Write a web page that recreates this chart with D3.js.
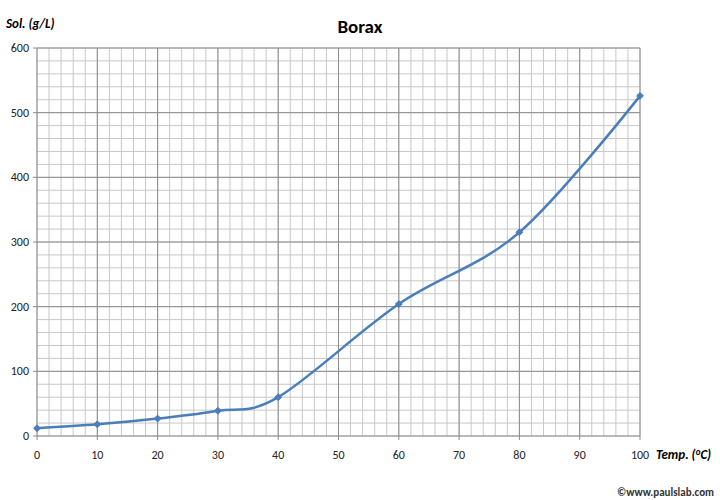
<!DOCTYPE html>
<html>
<head>
<meta charset="utf-8">
<script src="https://cdn.jsdelivr.net/npm/d3@7"></script>
<style>
  body { margin: 0; background: #fff; }
  text { font-family: Calibri, Carlito, "Open Sans", "Liberation Sans", sans-serif; }
</style>
</head>
<body>
<div id="draw"></div>
<script>
// data
let temps = [0, 10, 20, 30, 40, 60, 80, 100];
let sols = [12, 18, 27, 39, 60, 204, 315, 526];
let xTicks = [0, 10, 20, 30, 40, 50, 60, 70, 80, 90, 100];
let yTicks = [0, 100, 200, 300, 400, 500, 600];

let W = 720, H = 500;
let x0 = 37, x1 = 640, y0 = 436, y1 = 48;

let svg = d3.select('#draw').append('svg')
  .attr('width', W).attr('height', H);

let x = d3.scaleLinear().domain([0, 100]).range([x0, x1]);
let y = d3.scaleLinear().domain([0, 600]).range([y0, y1]);

// minor grid (every 2 on x, every 20 on y)
let g = svg.append('g');
g.selectAll('.vminor').data(d3.range(0, 101, 2)).enter().append('line')
  .attr('x1', d => x(d)).attr('x2', d => x(d))
  .attr('y1', y1).attr('y2', y0)
  .attr('stroke', '#c8c8c8').attr('stroke-width', 1);
g.selectAll('.hminor').data(d3.range(0, 601, 20)).enter().append('line')
  .attr('x1', x0).attr('x2', x1)
  .attr('y1', d => y(d)).attr('y2', d => y(d))
  .attr('stroke', '#c8c8c8').attr('stroke-width', 1);

// major grid + small ticks
g.selectAll('.vmajor').data(xTicks).enter().append('line')
  .attr('x1', d => x(d)).attr('x2', d => x(d))
  .attr('y1', y1).attr('y2', y0 + 4)
  .attr('stroke', '#8c8c8c').attr('stroke-width', 1);
g.selectAll('.hmajor').data(yTicks).enter().append('line')
  .attr('x1', x0 - 4).attr('x2', x1)
  .attr('y1', d => y(d)).attr('y2', d => y(d))
  .attr('stroke', '#8c8c8c').attr('stroke-width', 1);

// tick labels
svg.selectAll('.xl').data(xTicks).enter().append('text')
  .attr('x', d => x(d)).attr('y', y0 + 23)
  .attr('text-anchor', 'middle').attr('font-size', 12).attr('fill', '#222')
  .text(d => d);
svg.selectAll('.yl').data(yTicks).enter().append('text')
  .attr('x', x0 - 8).attr('y', d => y(d) + 4)
  .attr('text-anchor', 'end').attr('font-size', 12).attr('fill', '#222')
  .text(d => d);

// titles
svg.append('text').attr('x', 360).attr('y', 33)
  .attr('text-anchor', 'middle').attr('font-size', 19).attr('font-weight', 'bold')
  .text('Borax');
svg.append('text').attr('x', 6).attr('y', 28)
  .attr('font-size', 13).attr('font-weight', 'bold').attr('font-style', 'italic')
  .text('Sol. (g/L)');
let xt = svg.append('text').attr('x', 656).attr('y', y0 + 23)
  .attr('font-size', 13).attr('font-weight', 'bold').attr('font-style', 'italic');
xt.append('tspan').text('Temp. (');
xt.append('tspan').attr('font-size', 9).attr('dy', -4).text('o');
xt.append('tspan').attr('dy', 4).text('C)');
svg.append('text').attr('x', 714).attr('y', 496)
  .attr('text-anchor', 'end').attr('font-size', 11).attr('font-weight', 'bold').attr('fill', '#333')
  .text('©www.paulslab.com');

// the smoothed line
let pts = temps.map((t, i) => [t, sols[i]]);
let line = d3.line()
  .x(d => x(d[0])).y(d => y(d[1]))
  .curve(d3.curveCardinal.tension(0));
svg.append('path').datum(pts)
  .attr('d', line)
  .attr('fill', 'none').attr('stroke', '#4a7ebb').attr('stroke-width', 2.5);

// diamond markers
svg.selectAll('.mk').data(pts).enter().append('path')
  .attr('d', d3.symbol().type(d3.symbolDiamond2).size(30))
  .attr('transform', d => 'translate(' + x(d[0]) + ',' + y(d[1]) + ')')
  .attr('fill', '#4a7ebb').attr('stroke', '#4a7ebb');
</script>
</body>
</html>
